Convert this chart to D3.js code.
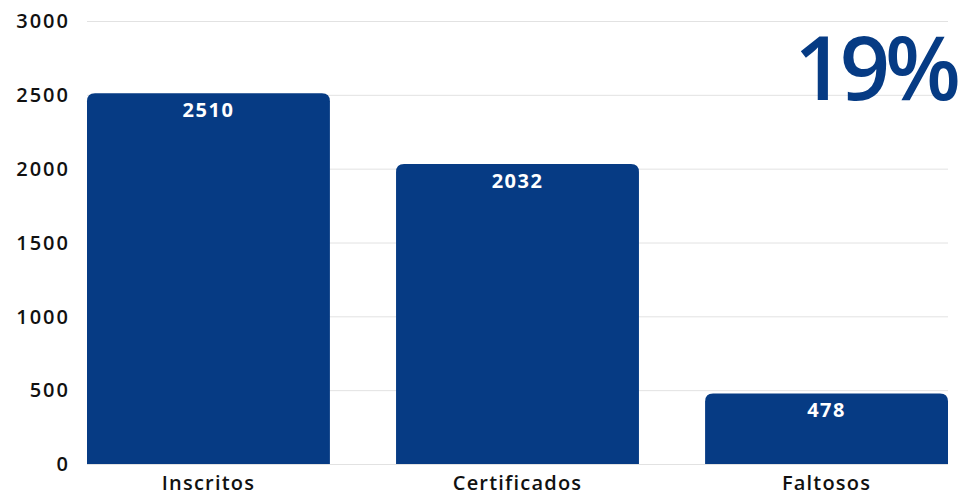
<!DOCTYPE html>
<html><head><meta charset="utf-8">
<script src="https://cdn.jsdelivr.net/npm/d3@7"></script>
<style>html,body{margin:0;padding:0;background:#fff;}svg{display:block;font-family:"Open Sans",sans-serif;}</style>
</head><body>
<svg id="c" width="959" height="497"></svg>
<script>
const categories = ["Inscritos", "Certificados", "Faltosos"];
const values = [2510, 2032, 478];
const yTicks = [0, 500, 1000, 1500, 2000, 2500, 3000];
const highlight = "19%";

const W = 959, H = 497;
const m = {l: 87, r: 11, t: 21, b: 33};
const color = "#063b84";
const svg = d3.select("#c");
const x = d3.scaleBand().domain(categories).range([m.l, W - m.r]).paddingInner(0.214).paddingOuter(0);
const y = d3.scaleLinear().domain([0, 3000]).range([H - m.b, m.t]);

svg.append("g").selectAll("line").data(yTicks).join("line")
  .attr("x1", m.l).attr("x2", W - m.r)
  .attr("y1", d => y(d) + 0.5).attr("y2", d => y(d) + 0.5)
  .attr("stroke", "#e2e2e2").attr("stroke-width", 1);

svg.append("g").selectAll("text").data(yTicks).join("text")
  .attr("x", 70).attr("y", d => y(d)).attr("dy", "0.36em")
  .attr("text-anchor", "end").attr("font-size", 20).attr("font-weight", 600)
  .attr("letter-spacing", 2).attr("fill", "#111").text(d => d);

const r = 8;
function barPath(x0, w, yt, yb) {
  return `M${x0},${yb}V${yt + r}Q${x0},${yt} ${x0 + r},${yt}H${x0 + w - r}Q${x0 + w},${yt} ${x0 + w},${yt + r}V${yb}Z`;
}
const data = categories.map((c, i) => ({c, v: values[i]}));
svg.append("g").selectAll("path").data(data).join("path")
  .attr("d", d => barPath(x(d.c), x.bandwidth(), y(d.v), y(0)))
  .attr("fill", color);

svg.append("g").selectAll("text").data(data).join("text")
  .attr("x", d => x(d.c) + x.bandwidth() / 2).attr("y", d => y(d.v) + 24)
  .attr("text-anchor", "middle").attr("font-size", 20).attr("font-weight", 700)
  .attr("letter-spacing", 1.5).attr("fill", "#fff").text(d => d.v);

svg.append("g").selectAll("text").data(categories).join("text")
  .attr("x", d => x(d) + x.bandwidth() / 2).attr("y", 490)
  .attr("text-anchor", "middle").attr("font-size", 20).attr("font-weight", 600)
  .attr("letter-spacing", 1.2).attr("fill", "#111").text(d => d);

svg.append("text").attr("x", 956).attr("y", 100)
  .attr("text-anchor", "end").attr("font-size", 88).attr("font-weight", 600)
  .attr("letter-spacing", -5).attr("fill", color).text(highlight);
</script>
</body></html>
